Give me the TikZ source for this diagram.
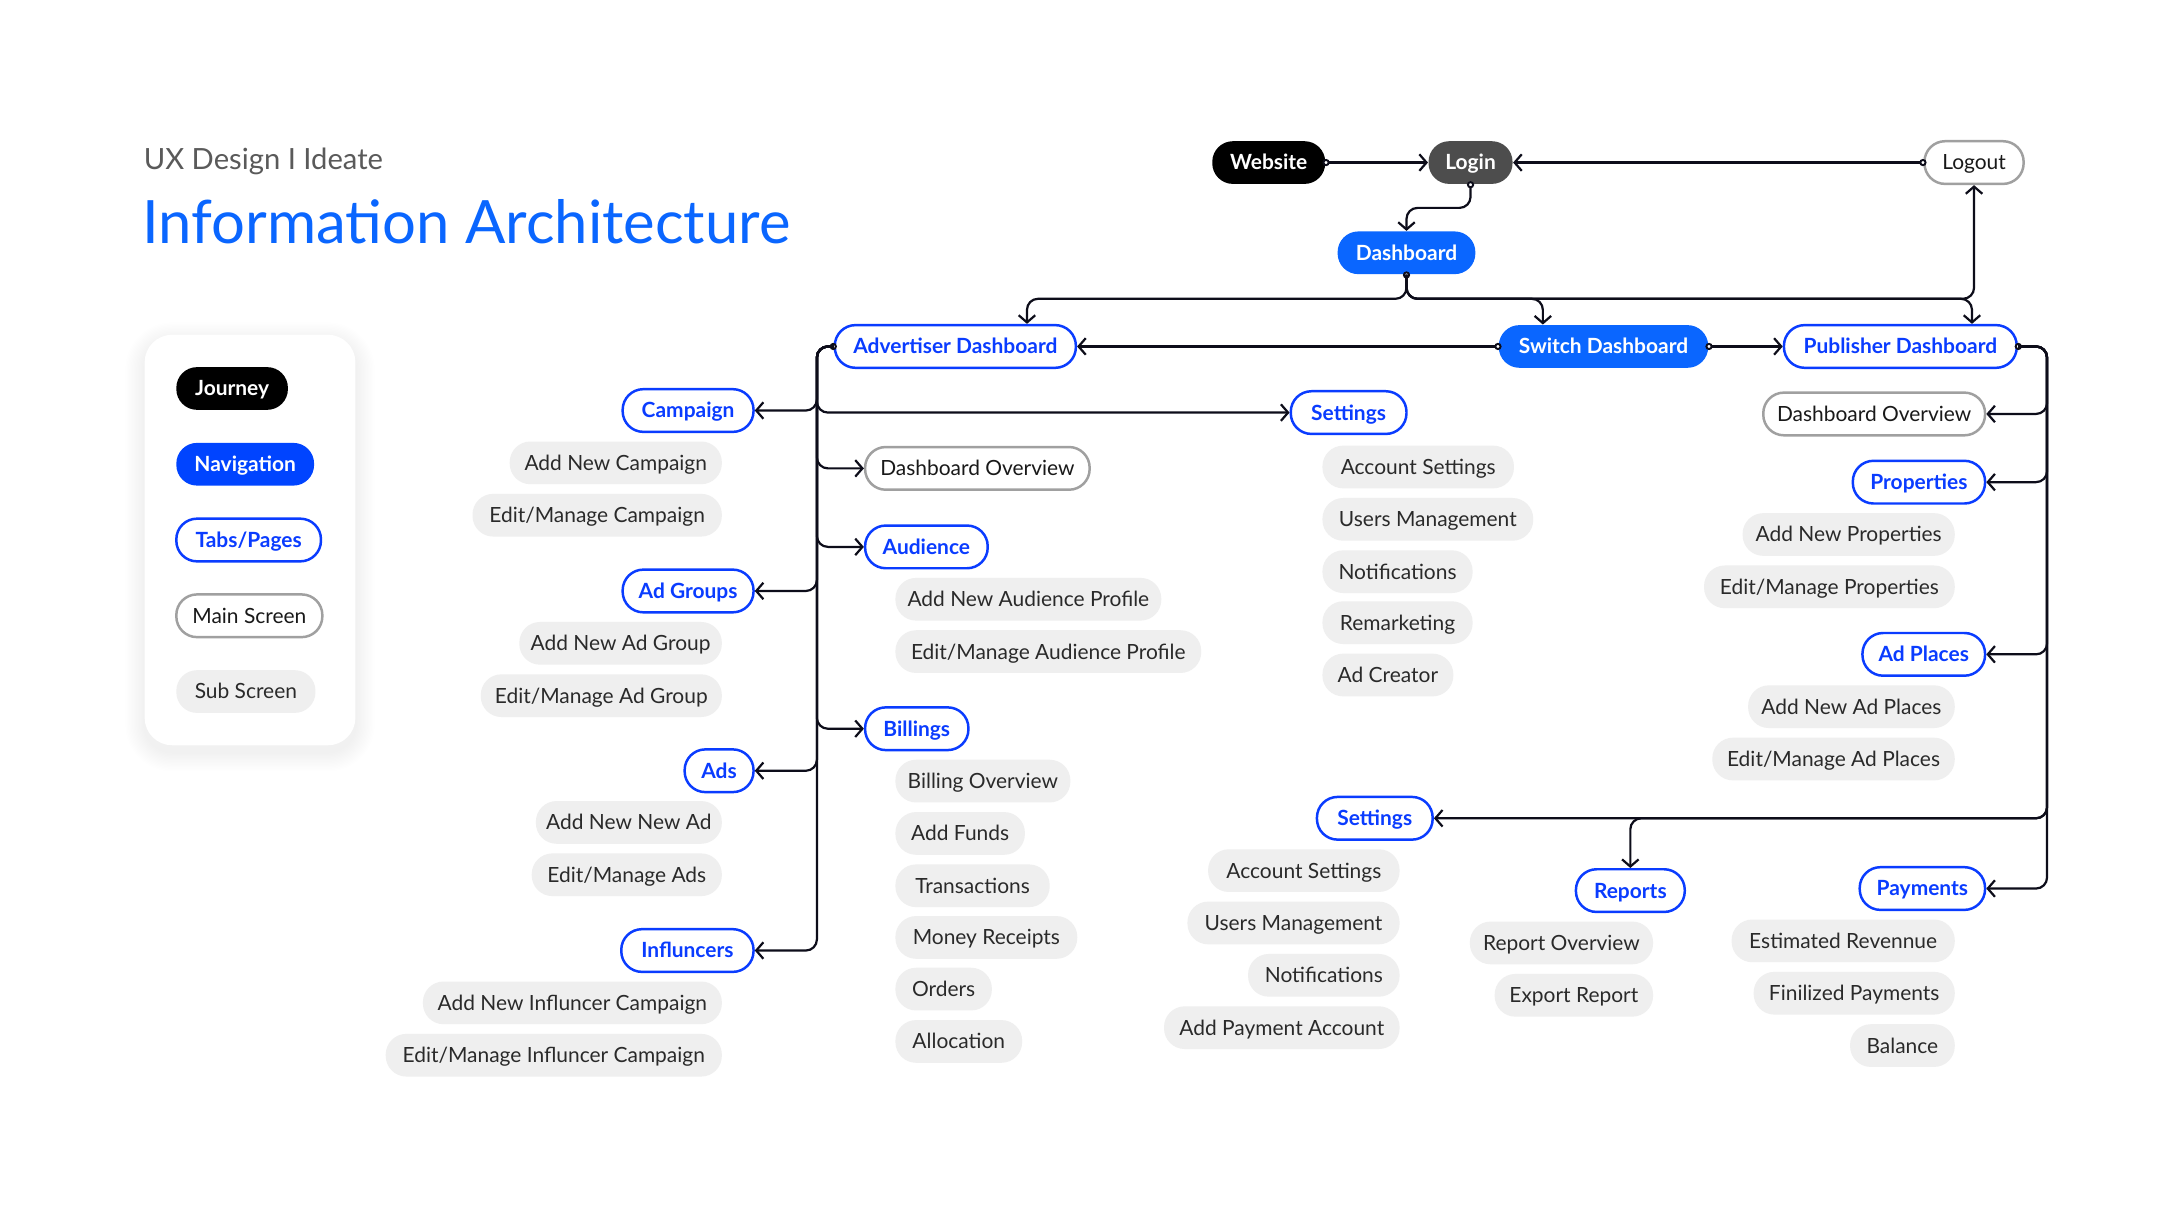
\documentclass[tikz,border=0pt]{standalone}
\usepackage{fontspec}
\setmainfont{Lato}
\usetikzlibrary{arrows.meta,calc}
\definecolor{navblue}{HTML}{0A66FF}
\definecolor{legblue}{HTML}{0044FF}
\definecolor{tabblue}{HTML}{0A3CFF}
\definecolor{subfill}{HTML}{EFEFEF}
\definecolor{maingray}{HTML}{A0A0A0}
\definecolor{linec}{HTML}{0D0D1A}
\definecolor{logingray}{HTML}{4D4D4D}
\definecolor{titlegray}{HTML}{5A5A5A}
\definecolor{subtext}{HTML}{2A2A2A}
\tikzset{
  Ci/.tip={Circle[length=2.6pt,fill=white,line width=0.7pt]},
  Ar/.tip={Straight Barb[length=2.6pt,width=6pt,line width=0.8pt]},
}
\begin{document}
\begin{tikzpicture}[x=0.5pt,y=-0.5pt,
  pill/.style={rectangle, rounded corners=7.5pt, minimum height=15.5pt, inner xsep=1pt, inner ysep=0pt, text height=5.4pt, text depth=0pt, font=\fontsize{7.6}{9}\selectfont},
  mw/.style={minimum width=#1*0.5pt},
  journey/.style={pill, fill=black, text=white, font=\fontsize{7.6}{9}\selectfont\bfseries},
  loginst/.style={pill, fill=logingray, text=white, font=\fontsize{7.6}{9}\selectfont\bfseries},
  nav/.style={pill, fill=navblue, text=white, font=\fontsize{7.6}{9}\selectfont\bfseries},
  tab/.style={pill, draw=tabblue, line width=0.9pt, fill=white, text=tabblue, font=\fontsize{7.6}{9}\selectfont\bfseries},
  mainscr/.style={pill, draw=maingray, line width=0.9pt, fill=white, text=black!90},
  subscr/.style={pill, fill=subfill, text=subtext},
  conn/.style={draw=linec, line width=0.8pt, rounded corners=4pt},
  cs/.style={Ci-Ar, shorten <=-1.2pt},
]
\useasboundingbox (0,0) rectangle (1568,889);
\fill[white] (0,0) rectangle (1568,889);

% titles
\node[anchor=west, inner sep=0pt, text=titlegray, font=\fontsize{10.6}{13}\selectfont] (sub) at (104,117) {UX Design I Ideate};
\node[anchor=west, inner sep=0pt, text=navblue, font=\fontsize{21.7}{25}\selectfont] (title) at (103,161) {Information Architecture};

% legend
\foreach \i in {1,...,14} {
  \fill[black, opacity=0.0045, rounded corners=10pt+\i*0.5pt] (105-\i,243-\i+5) rectangle (258+\i,541+\i+5);
}
\fill[white, rounded corners=10pt] (105,243) rectangle (258,541);
\node[journey, mw=81] (lj) at (168.5,282) {Journey};
\node[nav, fill=legblue, mw=100] (ln) at (178,337) {Navigation};
\node[tab, mw=105] (lt) at (180.5,392) {Tabs/Pages};
\node[mainscr, mw=106] (lm) at (181,447) {Main Screen};
\node[subscr, mw=101] (ls) at (178.5,502) {Sub Screen};

% top
\node[journey, mw=82] (web) at (921,118) {Website};
\node[loginst, mw=61] (login) at (1067.5,118) {Login};
\node[mainscr, mw=72] (logout) at (1433,118) {Logout};
\node[nav, mw=100] (dash) at (1021,183.5) {Dashboard};
\node[tab, mw=175] (adv) at (693.5,251.5) {Advertiser Dashboard};
\node[nav, mw=152] (sw) at (1164,251.5) {Switch Dashboard};
\node[tab, mw=169] (pub) at (1379.5,251.5) {Publisher Dashboard};

% advertiser left column
\node[tab, mw=95] (camp) at (499.5,298) {Campaign};
\node[subscr, mw=154] (anc) at (447,336) {Add New Campaign};
\node[subscr, mw=181] (emc) at (433.5,374) {Edit/Manage Campaign};
\node[tab, mw=95] (adg) at (499.5,429) {Ad Groups};
\node[subscr, mw=147] (anag) at (450.5,467) {Add New Ad Group};
\node[subscr, mw=175] (emag) at (436.5,505) {Edit/Manage Ad Group};
\node[tab, mw=50] (ads) at (522,559.5) {Ads};
\node[subscr, mw=135] (anna) at (456.5,597) {Add New New Ad};
\node[subscr, mw=138] (ema) at (455,635) {Edit/Manage Ads};
\node[tab, mw=96] (inf) at (499,690) {Influncers};
\node[subscr, mw=217] (anic) at (415.5,728) {Add New Influncer Campaign};
\node[subscr, mw=244] (emic) at (402,766) {Edit/Manage Influncer Campaign};

% advertiser middle column
\node[mainscr, mw=163] (dov) at (709.5,340) {Dashboard Overview};
\node[tab, mw=89] (aud) at (672.5,397) {Audience};
\node[subscr, mw=193] (anap) at (746.5,435) {Add New Audience Profile};
\node[subscr, mw=222] (emap) at (761,473) {Edit/Manage Audience Profile};
\node[tab, mw=75] (bil) at (665.5,529) {Billings};
\node[subscr, mw=127] (bo) at (713.5,567) {Billing Overview};
\node[subscr, mw=94] (af) at (697,605) {Add Funds};
\node[subscr, mw=112] (tr) at (706,643) {Transactions};
\node[subscr, mw=132] (mr) at (716,680.5) {Money Receipts};
\node[subscr, mw=70] (ord) at (685,718) {Orders};
\node[subscr, mw=92] (alc) at (696,756) {Allocation};

% advertiser settings
\node[tab, mw=84] (setA) at (979,299.5) {Settings};
\node[subscr, mw=139] (asA) at (1029.5,339) {Account Settings};
\node[subscr, mw=153] (umA) at (1036.5,377) {Users Management};
\node[subscr, mw=109] (noA) at (1014.5,415) {Notifications};
\node[subscr, mw=109] (rmA) at (1014.5,452) {Remarketing};
\node[subscr, mw=95] (acA) at (1007.5,490) {Ad Creator};

% publisher column
\node[mainscr, mw=161] (pdov) at (1360.5,300.5) {Dashboard Overview};
\node[tab, mw=96] (prop) at (1393,350) {Properties};
\node[subscr, mw=154] (anp) at (1342,388) {Add New Properties};
\node[subscr, mw=182] (emp) at (1328,426) {Edit/Manage Properties};
\node[tab, mw=89] (adp) at (1396.5,475) {Ad Places};
\node[subscr, mw=150] (anadp) at (1344,513) {Add New Ad Places};
\node[subscr, mw=176] (emadp) at (1331,551) {Edit/Manage Ad Places};

% publisher settings
\node[tab, mw=84] (setP) at (998,594) {Settings};
\node[subscr, mw=139] (asP) at (946.5,632) {Account Settings};
\node[subscr, mw=154] (umP) at (939,670) {Users Management};
\node[subscr, mw=110] (noP) at (961,708) {Notifications};
\node[subscr, mw=171] (apa) at (930.5,746) {Add Payment Account};

% reports
\node[tab, mw=79] (rep) at (1183.5,646.5) {Reports};
\node[subscr, mw=133] (ro) at (1133.5,684.5) {Report Overview};
\node[subscr, mw=115] (er) at (1142.5,722.5) {Export Report};

% payments
\node[tab, mw=91] (pay) at (1395.5,645) {Payments};
\node[subscr, mw=162] (estr) at (1338,683) {Estimated Revennue};
\node[subscr, mw=146] (fp) at (1346,721) {Finilized Payments};
\node[subscr, mw=76] (bal) at (1381,759) {Balance};

% ---------- connectors ----------
\draw[conn, cs] (web.east) -- (login.west);
\draw[conn, cs] (logout.west) -- (login.east);
\draw[conn, cs] (login.south) -- ++(0,17) -| (dash.north);

\draw[conn, cs] (dash.south) -- ++(0,17.5) -| ($(adv.north)+(52,0)$);
\draw[conn, -Ar] (dash.south) -- ++(0,17.5) -| ($(sw.north)+(-44,0)$);
\draw[conn, -Ar] (dash.south) -- ++(0,17.5) -| ($(pub.north)+(52,0)$);
\draw[conn, -Ar] (dash.south) -- ++(0,17.5) -| (logout.south);

\draw[conn, cs] (sw.west) -- (adv.east);
\draw[conn, cs] (sw.east) -- (pub.west);

% advertiser trunk
\coordinate (tA) at (593,251.5);
\draw[conn, cs] (adv.west) -| (tA |- camp.east) -- (camp.east);
\draw[conn, -Ar] (adv.west) -| (tA |- setA.west) -- (setA.west);
\draw[conn, -Ar] (adv.west) -| (tA |- dov.west) -- (dov.west);
\draw[conn, -Ar] (adv.west) -| (tA |- aud.west) -- (aud.west);
\draw[conn, -Ar] (adv.west) -| (tA |- adg.east) -- (adg.east);
\draw[conn, -Ar] (adv.west) -| (tA |- bil.west) -- (bil.west);
\draw[conn, -Ar] (adv.west) -| (tA |- ads.east) -- (ads.east);
\draw[conn, -Ar] (adv.west) -| (tA |- inf.east) -- (inf.east);

% publisher trunk
\coordinate (tP) at (1486,251.5);
\draw[conn, cs] (pub.east) -| (tP |- pdov.east) -- (pdov.east);
\draw[conn, -Ar] (pub.east) -| (tP |- prop.east) -- (prop.east);
\draw[conn, -Ar] (pub.east) -| (tP |- adp.east) -- (adp.east);
\draw[conn, -Ar] (pub.east) -| (tP |- setP.east) -- (setP.east);
\draw[conn, -Ar] (pub.east) -| (tP |- setP.east) -| (rep.north);
\draw[conn, -Ar] (pub.east) -| (tP |- pay.east) -- (pay.east);
\end{tikzpicture}
\end{document}
